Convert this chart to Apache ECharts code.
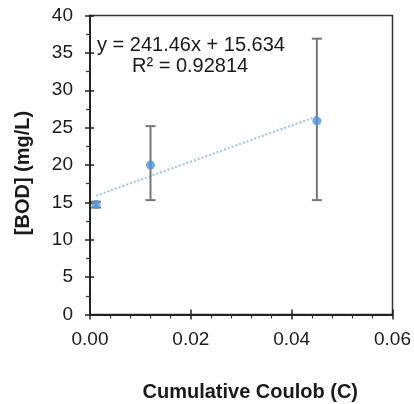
<!DOCTYPE html>
<html>
<head>
<meta charset="utf-8">
<script src="https://cdn.jsdelivr.net/npm/echarts@6/dist/echarts.min.js"></script>
<style>html,body{margin:0;padding:0;background:#fff;}#c{width:414px;height:404px;}</style>
</head>
<body>
<div id="c"></div>
<script>
const coulomb = [0.0012, 0.012, 0.045];
const bodMean = [14.7, 20.0, 25.9];
const bodLow = [14.3, 15.3, 15.3];
const bodHigh = [15.1, 25.2, 36.9];
const trendX = [0.0012, 0.045];
const trendY = [15.9, 26.5];
const xTicks = ['0.00', '0.02', '0.04', '0.06'];
const equationText = 'y = 241.46x + 15.634';
const r2Text = 'R² = 0.92814';

const FONT = '"Liberation Sans", Arial, sans-serif';
const chart = echarts.init(document.getElementById('c'));

const points = coulomb.map((x, i) => [x, bodMean[i]]);
const errs = coulomb.map((x, i) => [x, bodLow[i], bodHigh[i]]);
const trend = trendX.map((x, i) => [x, trendY[i]]);

const axisLabelStyle = {color: '#1a1a1a', fontFamily: FONT, fontSize: 19};

chart.setOption({
  animation: false,
  grid: {left: 90, right: 21.5, top: 15.5, bottom: 89.5, show: true, borderColor: '#333', borderWidth: 1.5,
         containLabel: false, outerBoundsMode: 'none'},
  xAxis: [{
    type: 'value', min: 0, max: 0.06, interval: 0.02, position: 'bottom',
    axisLine: {show: true, onZero: false, lineStyle: {color: '#222', width: 2}},
    axisTick: {show: true, inside: false, length: 5, lineStyle: {color: '#222', width: 1.5}},
    minorTick: {show: true, splitNumber: 5, length: 4, lineStyle: {color: '#333', width: 1.2}},
    axisLabel: Object.assign({margin: 16, formatter: (v) => xTicks[Math.round(v / 0.02)] ?? ''}, axisLabelStyle),
    splitLine: {show: false},
    name: 'Cumulative Coulob (C)', nameLocation: 'middle', nameGap: 68,
    nameTextStyle: {color: '#1a1a1a', fontFamily: FONT, fontSize: 20, fontWeight: 'bold', padding: [0, 0, 0, 18]}
  }, {
    type: 'value', min: 0, max: 0.06, interval: 0.02, position: 'bottom', offset: 0,
    axisLine: {show: false}, axisLabel: {show: false}, splitLine: {show: false},
    axisTick: {show: true, inside: true, length: 5, lineStyle: {color: '#222', width: 1.5}}
  }],
  yAxis: [{
    type: 'value', min: 0, max: 40, interval: 5, position: 'left',
    axisLine: {show: true, onZero: false, lineStyle: {color: '#222', width: 2}},
    axisTick: {show: true, inside: false, length: 5, lineStyle: {color: '#222', width: 1.5}},
    minorTick: {show: true, splitNumber: 2, length: 4, lineStyle: {color: '#333', width: 1.2}},
    axisLabel: Object.assign({margin: 17}, axisLabelStyle),
    splitLine: {show: false},
    name: '[BOD] (mg/L)', nameLocation: 'middle', nameGap: 57,
    nameTextStyle: {color: '#1a1a1a', fontFamily: FONT, fontSize: 20, fontWeight: 'bold', padding: [0, 16, 0, 0]}
  }, {
    type: 'value', min: 0, max: 40, interval: 5, position: 'left', offset: 0,
    axisLine: {show: false}, axisLabel: {show: false}, splitLine: {show: false},
    axisTick: {show: true, inside: true, length: 4, lineStyle: {color: '#222', width: 1.5}}
  }],
  series: [{
    type: 'line', data: trend, showSymbol: false, symbol: 'none', silent: true,
    lineStyle: {color: '#9dc3e6', width: 2, type: 'dotted'}, z: 2
  }, {
    type: 'custom', data: errs, z: 3,
    renderItem: function (params, api) {
      const x = api.value(0);
      const lo = api.coord([x, api.value(1)]);
      const hi = api.coord([x, api.value(2)]);
      const cap = 5;
      const style = {stroke: '#777', lineWidth: 2, fill: null};
      return {type: 'group', children: [
        {type: 'line', shape: {x1: lo[0], y1: lo[1], x2: hi[0], y2: hi[1]}, style: style},
        {type: 'line', shape: {x1: lo[0] - cap, y1: lo[1], x2: lo[0] + cap, y2: lo[1]}, style: style},
        {type: 'line', shape: {x1: hi[0] - cap, y1: hi[1], x2: hi[0] + cap, y2: hi[1]}, style: style}
      ]};
    }
  }, {
    type: 'scatter', data: points, symbol: 'circle', symbolSize: 9, z: 4,
    itemStyle: {color: '#4f93d8'}
  }],
  graphic: [{
    type: 'text', left: 97, top: 35,
    style: {text: equationText, fill: '#1a1a1a', font: '20px ' + FONT}
  }, {
    type: 'text', left: 132, top: 56,
    style: {text: r2Text, fill: '#1a1a1a', font: '20px ' + FONT}
  }]
});
</script>
</body>
</html>
